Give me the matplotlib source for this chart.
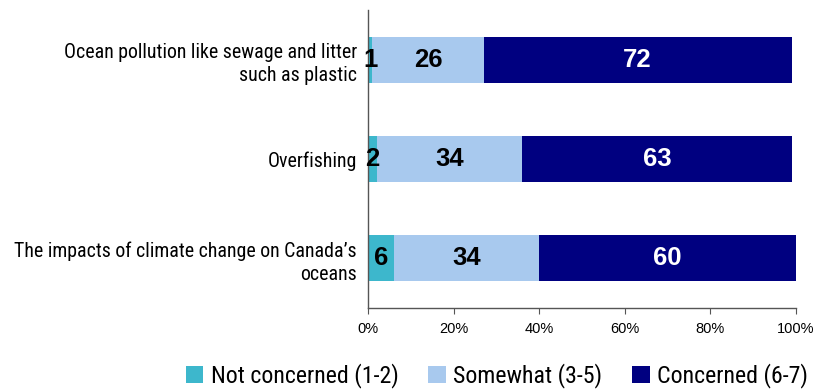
import matplotlib
matplotlib.use("Agg")
import matplotlib.pyplot as plt
from matplotlib.ticker import PercentFormatter
from matplotlib.patches import Patch

categories = [
    "Ocean pollution like sewage and litter\nsuch as plastic",
    "Overfishing",
    "The impacts of climate change on Canada\u2019s\noceans",
]
series_names = ["Not concerned (1-2)", "Somewhat (3-5)", "Concerned (6-7)"]
not_concerned = [1, 2, 6]
somewhat = [26, 34, 34]
concerned = [72, 63, 60]
x_ticks = [0, 20, 40, 60, 80, 100]

colors = ["#3DB7CC", "#A8C9EE", "#000080"]
text_colors = ["black", "black", "white"]

narrow = ["Roboto Condensed", "DejaVu Sans"]
plt.rcParams["font.family"] = ["Liberation Sans", "DejaVu Sans"]

fig = plt.figure(figsize=(8.17, 3.89), dpi=100)
ax = fig.add_axes([368 / 817, 1 - 308 / 389, (796 - 368) / 817, 298 / 389])

ypos = list(range(len(categories)))
left = [0] * len(categories)
for vals, col, tcol in zip([not_concerned, somewhat, concerned], colors, text_colors):
    ax.barh(ypos, vals, left=left, height=0.46, color=col, edgecolor="none")
    for y, l, v in zip(ypos, left, vals):
        ax.text(l + v / 2, y, f"{v}", ha="center", va="center", color=tcol,
                fontsize=18.5, fontweight="bold")
    left = [a + b for a, b in zip(left, vals)]

ax.set_xlim(0, 100)
ax.set_ylim(len(categories) - 0.5, -0.5)
ax.set_yticks(ypos)
ax.set_yticklabels(categories, fontsize=14.3, family=narrow, linespacing=1.3)
ax.tick_params(axis="y", length=0, pad=8)
ax.set_xticks(x_ticks)
ax.xaxis.set_major_formatter(PercentFormatter(100, decimals=0))
ax.tick_params(axis="x", labelsize=10.5, length=4, direction="out", color="#555555", pad=6)
for s in ["top", "right"]:
    ax.spines[s].set_visible(False)
for s in ["left", "bottom"]:
    ax.spines[s].set_color("#555555")
    ax.spines[s].set_linewidth(1.0)

handles = [Patch(facecolor=c, edgecolor="none") for c in colors]
fig.legend(handles, series_names, loc="center", bbox_to_anchor=(497 / 817, 1 - 376 / 389),
           ncol=3, frameon=False, prop={"family": narrow, "size": 17.2},
           handlelength=0.75, handleheight=0.75, handletextpad=0.3, columnspacing=1.25,
           borderpad=0)

fig.savefig("out.png", dpi=100)
